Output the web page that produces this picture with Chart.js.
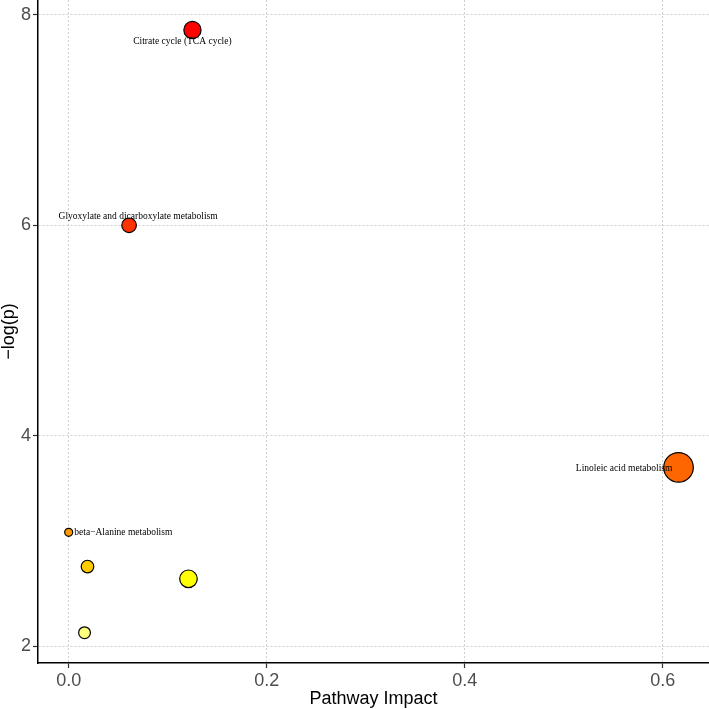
<!DOCTYPE html>
<html>
<head>
<meta charset="utf-8">
<script src="https://cdn.jsdelivr.net/npm/chart.js@4.4.1/dist/chart.umd.min.js"></script>
<style>
  html, body { margin: 0; padding: 0; background: #fff; }
  #wrap { width: 709px; height: 709px; }
</style>
</head>
<body>
<div id="wrap"><canvas id="c" width="709" height="709"></canvas></div>
<script>
// ---- data ----
const pathways = [
  "Citrate cycle (TCA cycle)",
  "Glyoxylate and dicarboxylate metabolism",
  "Linoleic acid metabolism",
  "beta\u2212Alanine metabolism",
  "",
  "",
  ""
];
const impact   = [0.125, 0.061, 0.616, 0.000, 0.019, 0.121, 0.016];
const logP     = [7.855, 6.000, 3.700, 3.083, 2.758, 2.642, 2.130];
const bubbleR  = [8.6, 7.3, 14.8, 4.0, 6.3, 8.8, 5.9];
const xTicks   = [0, 0.2, 0.4, 0.6];
const yTicks   = [2, 4, 6, 8];

// ---- styling (not data) ----
const pointColors = ["#FF0000", "#FF3300", "#FF6600", "#FF9900", "#FFCC00", "#FFFF00", "#FFFF80"];
const labelOffsets = [[-10, 11.7], [9, -9], [-54.4, 0.6], [54.6, 0], [0, 0], [0, 0], [0, 0]];

const points = impact.map((x, i) => ({ x: x, y: logP[i], r: bubbleR[i] }));

// plot area must run to the canvas edge like the reference: no extra padding for bubble overflow
Chart.BubbleController.prototype.getMaxOverflow = function () { return 0; };

const labelPlugin = {
  id: 'pointLabels',
  afterDatasetsDraw(chart) {
    const ctx = chart.ctx;
    const meta = chart.getDatasetMeta(0);
    ctx.save();
    ctx.font = '9.5px "Liberation Serif", "Times New Roman", serif';
    ctx.fillStyle = '#000';
    ctx.textAlign = 'center';
    ctx.textBaseline = 'middle';
    meta.data.forEach((el, i) => {
      if (!pathways[i]) return;
      ctx.fillText(pathways[i], el.x + labelOffsets[i][0], el.y + labelOffsets[i][1]);
    });
    ctx.restore();
  }
};

const tickFont = { family: '"Liberation Sans", Arial, Helvetica, sans-serif', size: 18 };
const gridStyle = {
  color: '#CFCFCF',
  lineWidth: 1,
  drawTicks: true,
  tickLength: 5,
  tickColor: '#333333',
  tickWidth: 1.2,
  tickBorderDash: []
};

new Chart(document.getElementById('c'), {
  type: 'bubble',
  data: {
    datasets: [{
      data: points,
      backgroundColor: pointColors,
      borderColor: '#000',
      borderWidth: 1.2,
      hoverRadius: 0,
      clip: false
    }]
  },
  options: {
    responsive: false,
    animation: false,
    events: [],
    layout: { padding: 0 },
    plugins: { legend: { display: false }, tooltip: { enabled: false } },
    scales: {
      x: {
        type: 'linear',
        min: -0.031,
        max: 0.6468,
        afterBuildTicks: (s) => { s.ticks = xTicks.map(v => ({ value: v })); },
        afterFit: (s) => { s.height = 46; s.paddingLeft = 0; s.paddingRight = 0; },
        ticks: {
          font: tickFont, color: '#4D4D4D', padding: 2, maxRotation: 0,
          callback: (v) => Number(v).toFixed(1)
        },
        grid: gridStyle,
        border: { display: true, color: '#000', width: 1.5, dash: [2, 2] },
        title: {
          display: true, text: 'Pathway Impact', color: '#000',
          font: { family: '"Liberation Sans", Arial, Helvetica, sans-serif', size: 18, lineHeight: 1.2 },
          padding: { top: 0, bottom: -1 }
        }
      },
      y: {
        type: 'linear',
        min: 1.842,
        max: 8.14,
        afterBuildTicks: (s) => { s.ticks = yTicks.map(v => ({ value: v })); },
        afterFit: (s) => { s.width = 38; s.paddingTop = 0; s.paddingBottom = 0; },
        ticks: {
          font: tickFont, color: '#4D4D4D', padding: 2,
          callback: (v) => String(v)
        },
        grid: gridStyle,
        border: { display: true, color: '#000', width: 1.5, dash: [2, 2] },
        title: {
          display: true, text: '\u2212log(p)', color: '#000',
          font: { family: '"Liberation Sans", Arial, Helvetica, sans-serif', size: 18, lineHeight: 1 },
          padding: { top: 0, bottom: 0 }
        }
      }
    }
  },
  plugins: [labelPlugin]
});
</script>
</body>
</html>
